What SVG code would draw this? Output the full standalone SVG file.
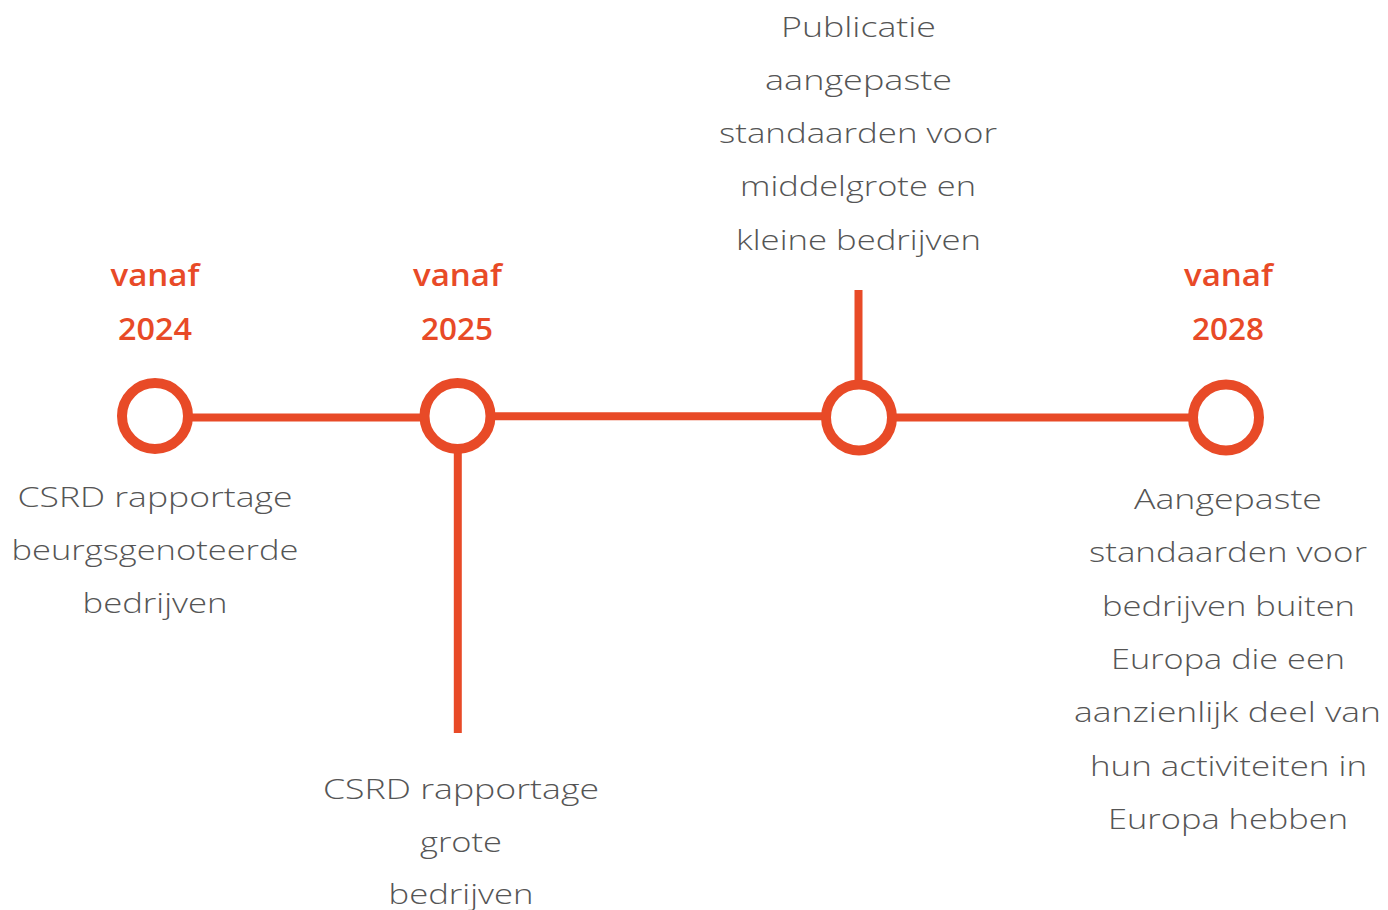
<svg xmlns="http://www.w3.org/2000/svg" width="1388" height="910" viewBox="0 0 1388 910">
<style>
.ln{stroke:#E84A27;stroke-width:8;fill:none}
.nd{stroke:#E84A27;stroke-width:10;fill:#fff}
.t{font-family:"Open Sans","Liberation Sans",sans-serif;font-weight:300;font-size:28px;fill:#555;text-anchor:middle}
.o{font-family:"Open Sans","Liberation Sans",sans-serif;font-weight:600;font-size:30px;fill:#E84A27;text-anchor:middle}
</style>
<rect width="1388" height="910" fill="#fff"/>
<g id="connectors">
<line class="ln" x1="155" y1="417.5" x2="457" y2="417.5"/>
<line class="ln" x1="457" y1="416.2" x2="858" y2="416.2"/>
<line class="ln" x1="858" y1="417.5" x2="1226" y2="417.5"/>
<line class="ln" x1="457.8" y1="440" x2="457.8" y2="733"/>
<line class="ln" x1="858.5" y1="290" x2="858.5" y2="395"/>
</g>
<g id="node-2024">
<circle class="nd" cx="155" cy="416" r="33"/>
<text class="o" x="155" y="286" textLength="89" lengthAdjust="spacingAndGlyphs">vanaf</text>
<text class="o" x="155" y="340" textLength="74" lengthAdjust="spacingAndGlyphs">2024</text>
<text class="t" x="155" y="507" textLength="275" lengthAdjust="spacingAndGlyphs">CSRD rapportage</text>
<text class="t" x="155" y="560" textLength="287" lengthAdjust="spacingAndGlyphs">beurgsgenoteerde</text>
<text class="t" x="155" y="613" textLength="145" lengthAdjust="spacingAndGlyphs">bedrijven</text>
</g>
<g id="node-2025">
<circle class="nd" cx="457.5" cy="416" r="33"/>
<text class="o" x="457.5" y="286" textLength="89" lengthAdjust="spacingAndGlyphs">vanaf</text>
<text class="o" x="457" y="340" textLength="72" lengthAdjust="spacingAndGlyphs">2025</text>
<text class="t" x="461" y="799" textLength="276" lengthAdjust="spacingAndGlyphs">CSRD rapportage</text>
<text class="t" x="461" y="852" textLength="82" lengthAdjust="spacingAndGlyphs">grote</text>
<text class="t" x="461" y="904" textLength="145" lengthAdjust="spacingAndGlyphs">bedrijven</text>
</g>
<g id="node-publicatie">
<circle class="nd" cx="859" cy="417.5" r="33"/>
<text class="t" x="858.5" y="37" textLength="155" lengthAdjust="spacingAndGlyphs">Publicatie</text>
<text class="t" x="858.5" y="90" textLength="187" lengthAdjust="spacingAndGlyphs">aangepaste</text>
<text class="t" x="858" y="143" textLength="278" lengthAdjust="spacingAndGlyphs">standaarden voor</text>
<text class="t" x="858" y="196" textLength="236" lengthAdjust="spacingAndGlyphs">middelgrote en</text>
<text class="t" x="858.5" y="250" textLength="245" lengthAdjust="spacingAndGlyphs">kleine bedrijven</text>
</g>
<g id="node-2028">
<circle class="nd" cx="1226" cy="417.5" r="33"/>
<text class="o" x="1228.5" y="286" textLength="89" lengthAdjust="spacingAndGlyphs">vanaf</text>
<text class="o" x="1228" y="340" textLength="72" lengthAdjust="spacingAndGlyphs">2028</text>
<text class="t" x="1228" y="509" textLength="188" lengthAdjust="spacingAndGlyphs">Aangepaste</text>
<text class="t" x="1228" y="562" textLength="278" lengthAdjust="spacingAndGlyphs">standaarden voor</text>
<text class="t" x="1228.5" y="616" textLength="253" lengthAdjust="spacingAndGlyphs">bedrijven buiten</text>
<text class="t" x="1228" y="669" textLength="234" lengthAdjust="spacingAndGlyphs">Europa die een</text>
<text class="t" x="1227.5" y="722" textLength="307" lengthAdjust="spacingAndGlyphs">aanzienlijk deel van</text>
<text class="t" x="1228.5" y="776" textLength="277" lengthAdjust="spacingAndGlyphs">hun activiteiten in</text>
<text class="t" x="1228" y="829" textLength="240" lengthAdjust="spacingAndGlyphs">Europa hebben</text>
</g>
</svg>
